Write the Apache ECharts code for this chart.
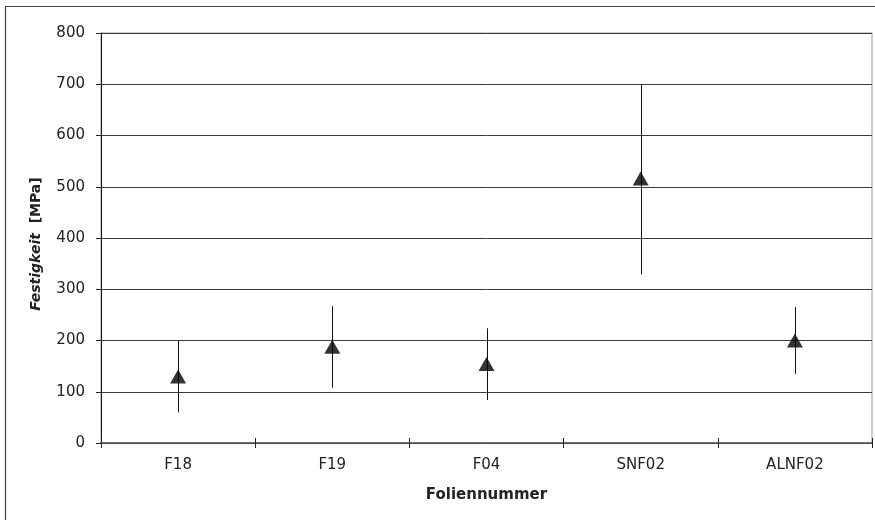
<!DOCTYPE html>
<html>
<head>
<meta charset="utf-8">
<script src="https://cdn.jsdelivr.net/npm/echarts@6/dist/echarts.min.js"></script>
<style>
html,body{margin:0;padding:0;background:#fff;}
#chart{width:875px;height:520px;}
</style>
</head>
<body>
<div id="chart"></div>
<script>
var categories = ['F18', 'F19', 'F04', 'SNF02', 'ALNF02'];
var meanValues = [130, 188, 154, 516, 200];
var upperValues = [200, 267, 224, 700, 265];
var lowerValues = [60, 108, 84, 329, 135];
var yTicks = [0, 100, 200, 300, 400, 500, 600, 700, 800];

var chart = echarts.init(document.getElementById('chart'), null, {renderer: 'canvas'});

var errorData = categories.map(function (c, i) { return [i, lowerValues[i], upperValues[i]]; });
var meanData = categories.map(function (c, i) { return [i, meanValues[i]]; });

var FONT = 'DejaVu Sans';

var option = {
  animation: false,
  backgroundColor: '#ffffff',
  grid: {
    left: 101, right: 3, top: 33, bottom: 77,
    show: true, borderColor: '#9a9a9a', borderWidth: 1, backgroundColor: 'transparent'
  },
  graphic: [{
    type: 'rect',
    shape: {x: 5.5, y: 6.5, width: 900, height: 600},
    style: {fill: 'none', stroke: '#444', lineWidth: 1.2},
    silent: true, z: 100
  }],
  xAxis: [{
    type: 'category',
    data: categories,
    boundaryGap: true,
    axisLine: {show: true, lineStyle: {color: '#555', width: 1.5}},
    axisTick: {show: true, inside: false, length: 5, lineStyle: {color: '#222'}},
    axisLabel: {color: '#222', fontFamily: FONT, fontSize: 15, margin: 15},
    splitLine: {show: false},
    name: 'Foliennummer',
    nameLocation: 'middle',
    nameGap: 45,
    nameTextStyle: {color: '#222', fontFamily: FONT, fontSize: 15, fontWeight: 'bold'}
  }, {
    type: 'category',
    data: categories,
    position: 'bottom',
    offset: 0,
    boundaryGap: true,
    axisLine: {show: false},
    axisTick: {show: true, inside: true, length: 5, lineStyle: {color: '#222'}},
    axisLabel: {show: false},
    splitLine: {show: false}
  }],
  yAxis: {
    type: 'value',
    min: yTicks[0],
    max: yTicks[yTicks.length - 1],
    interval: 100,
    axisLine: {show: true, lineStyle: {color: '#111', width: 1}},
    axisTick: {show: true, inside: false, length: 5, lineStyle: {color: '#222'}},
    axisLabel: {color: '#222', fontFamily: FONT, fontSize: 15, margin: 16},
    splitLine: {show: true, lineStyle: {color: '#3c3c3c', width: 1}},
    name: '{i|Festigkeit}  {n|[MPa]}',
    nameLocation: 'middle',
    nameGap: 58,
    nameRotate: 90,
    nameTextStyle: {
      color: '#222', fontFamily: FONT, fontSize: 14, fontWeight: 'bold',
      padding: [0, 12, 0, 0],
      rich: {
        i: {fontFamily: FONT, fontSize: 14, fontWeight: 'bold', fontStyle: 'italic', color: '#222'},
        n: {fontFamily: FONT, fontSize: 14, fontWeight: 'bold', color: '#222'}
      }
    }
  },
  series: [{
    type: 'custom',
    data: errorData,
    z: 3,
    renderItem: function (params, api) {
      var x = api.value(0);
      var lo = api.coord([x, api.value(1)]);
      var hi = api.coord([x, api.value(2)]);
      return {
        type: 'line',
        shape: {x1: Math.round(lo[0]) + 0.5, y1: lo[1], x2: Math.round(hi[0]) + 0.5, y2: hi[1]},
        style: {stroke: '#111', lineWidth: 1}
      };
    }
  }, {
    type: 'scatter',
    data: meanData,
    symbol: 'triangle',
    symbolSize: [16, 14],
    itemStyle: {color: '#000'},
    z: 4
  }]
};
chart.setOption(option);
</script>
</body>
</html>
